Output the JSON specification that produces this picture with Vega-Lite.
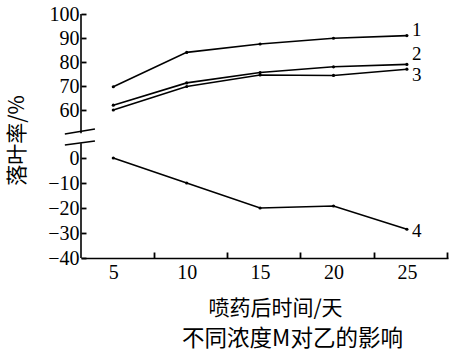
{
  "$schema": "https://vega.github.io/schema/vega-lite/v6.json",
  "width": 367,
  "height": 244,
  "autosize": {"type": "none"},
  "padding": {"left": 81, "top": 14, "right": 7, "bottom": 98},
  "background": "white",
  "config": {"view": {"stroke": null}, "axis": {"grid": false, "labelOverlap": false, "labelBound": false, "labelFlush": false}},
  "title": {
    "text": "不同浓度M对乙的影响",
    "orient": "bottom",
    "anchor": "middle",
    "font": "Noto Sans CJK SC",
    "fontSize": 22.5,
    "fontWeight": "normal",
    "color": "black",
    "dx": 28,
    "offset": 10
  },
  "datasets": {
    "curves": [
      {"series": "1", "day": 5, "rate": 69.7},
      {"series": "1", "day": 10, "rate": 84.0},
      {"series": "1", "day": 15, "rate": 87.5},
      {"series": "1", "day": 20, "rate": 89.9},
      {"series": "1", "day": 25, "rate": 91.0},
      {"series": "2", "day": 5, "rate": 62.0},
      {"series": "2", "day": 10, "rate": 71.3},
      {"series": "2", "day": 15, "rate": 75.6},
      {"series": "2", "day": 20, "rate": 78.0},
      {"series": "2", "day": 25, "rate": 79.0},
      {"series": "3", "day": 5, "rate": 60.0},
      {"series": "3", "day": 10, "rate": 69.8},
      {"series": "3", "day": 15, "rate": 74.6},
      {"series": "3", "day": 20, "rate": 74.4},
      {"series": "3", "day": 25, "rate": 77.0},
      {"series": "4", "day": 5, "rate": 0},
      {"series": "4", "day": 10, "rate": -10},
      {"series": "4", "day": 15, "rate": -20},
      {"series": "4", "day": 20, "rate": -19.2},
      {"series": "4", "day": 25, "rate": -28.5}
    ],
    "blank": [{}]
  },
  "layer": [
    {
      "data": {"name": "curves"},
      "mark": {"type": "line", "color": "black", "strokeWidth": 1.6, "point": {"filled": true, "size": 10, "color": "black"}},
      "encoding": {
        "x": {
          "field": "day", "type": "quantitative",
          "scale": {"domain": [2.8, 27.8], "nice": false, "zero": false},
          "axis": {
            "values": [5, 7.75, 10, 12.75, 15, 17.75, 20, 22.75, 25, 27.75],
            "tickCount": 30,
            "labelExpr": "datum.value % 5 === 0 ? datum.label : ''",
            "labelOverlap": false,
            "tickOpacity": {"condition": {"test": "datum.value % 5 === 0", "value": 0}, "value": 1},
            "tickSize": -6,
            "tickWidth": 1.8,
            "tickColor": "black",
            "domainColor": "black",
            "domainWidth": 1.6,
            "labelFont": "Liberation Serif",
            "labelFontSize": 20,
            "labelColor": "black",
            "labelPadding": 10,
            "title": "喷药后时间/天",
            "titleFont": "Noto Sans CJK SC",
            "titleFontSize": 21,
            "titleFontWeight": "normal",
            "titleColor": "black",
            "titleX": 194,
            "titleY": 50,
            "titleAlign": "center",
            "titleBaseline": "middle"
          }
        },
        "y": {
          "field": "rate", "type": "quantitative",
          "scale": {"domain": [-40, 0, 60, 100], "range": [244, 144, 96, 0], "nice": false, "zero": false},
          "axis": {
            "values": [-40, -30, -20, -10, 0, 60, 70, 80, 90, 100],
            "tickCount": 30,
            "domain": false,
            "tickSize": -5,
            "tickWidth": 1.8,
            "tickColor": "black",
            "labelFont": "Liberation Serif",
            "labelFontSize": 20,
            "labelColor": "black",
            "labelPadding": 7,
            "labelOverlap": false,
            "title": "落叶率/%",
            "titleFont": "Noto Sans CJK SC",
            "titleFontSize": 21,
            "titleFontWeight": "normal",
            "titleColor": "black",
            "titleAngle": -90,
            "titleX": -64,
            "titleY": 126,
            "titleAlign": "center",
            "titleBaseline": "middle"
          }
        },
        "detail": {"field": "series"}
      }
    },
    {
      "data": {"name": "blank"},
      "mark": {"type": "rule", "color": "black", "strokeWidth": 1.6},
      "encoding": {
        "x": {"datum": 2.8, "type": "quantitative"},
        "y": {"datum": 31, "type": "quantitative"},
        "y2": {"datum": 100}
      }
    },
    {
      "data": {"name": "blank"},
      "mark": {"type": "rule", "color": "black", "strokeWidth": 1.6},
      "encoding": {
        "x": {"datum": 2.8, "type": "quantitative"},
        "y": {"datum": -40, "type": "quantitative"},
        "y2": {"datum": 18.5}
      }
    },
    {
      "data": {"name": "blank"},
      "mark": {"type": "rule", "color": "black", "strokeWidth": 1.6},
      "encoding": {
        "x": {"datum": 1.7, "type": "quantitative"},
        "x2": {"datum": 3.75},
        "y": {"datum": 30, "type": "quantitative"},
        "y2": {"datum": 36.25}
      }
    },
    {
      "data": {"name": "blank"},
      "mark": {"type": "rule", "color": "black", "strokeWidth": 1.6},
      "encoding": {
        "x": {"datum": 1.7, "type": "quantitative"},
        "x2": {"datum": 3.75},
        "y": {"datum": 16.25, "type": "quantitative"},
        "y2": {"datum": 21.25}
      }
    },
    {
      "data": {"name": "curves"},
      "transform": [{"filter": "datum.day === 25 && datum.series === '1'"}],
      "mark": {"type": "text", "align": "left", "baseline": "middle", "dx": 5, "dy": -6, "font": "Liberation Serif", "fontSize": 19, "color": "black"},
      "encoding": {
        "x": {"field": "day", "type": "quantitative"},
        "y": {"field": "rate", "type": "quantitative"},
        "text": {"field": "series"}
      }
    },
    {
      "data": {"name": "curves"},
      "transform": [{"filter": "datum.day === 25 && datum.series === '2'"}],
      "mark": {"type": "text", "align": "left", "baseline": "middle", "dx": 5, "dy": -10, "font": "Liberation Serif", "fontSize": 19, "color": "black"},
      "encoding": {
        "x": {"field": "day", "type": "quantitative"},
        "y": {"field": "rate", "type": "quantitative"},
        "text": {"field": "series"}
      }
    },
    {
      "data": {"name": "curves"},
      "transform": [{"filter": "datum.day === 25 && datum.series === '3'"}],
      "mark": {"type": "text", "align": "left", "baseline": "middle", "dx": 5, "dy": 6, "font": "Liberation Serif", "fontSize": 19, "color": "black"},
      "encoding": {
        "x": {"field": "day", "type": "quantitative"},
        "y": {"field": "rate", "type": "quantitative"},
        "text": {"field": "series"}
      }
    },
    {
      "data": {"name": "curves"},
      "transform": [{"filter": "datum.day === 25 && datum.series === '4'"}],
      "mark": {"type": "text", "align": "left", "baseline": "middle", "dx": 5, "dy": 2, "font": "Liberation Serif", "fontSize": 19, "color": "black"},
      "encoding": {
        "x": {"field": "day", "type": "quantitative"},
        "y": {"field": "rate", "type": "quantitative"},
        "text": {"field": "series"}
      }
    }
  ]
}
